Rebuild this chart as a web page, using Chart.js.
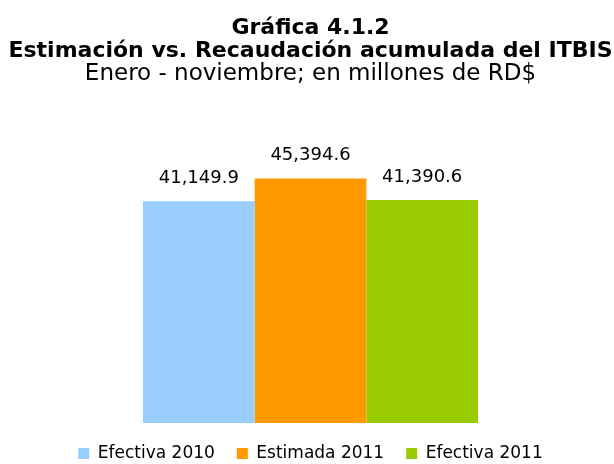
<!DOCTYPE html>
<html>
<head>
<meta charset="utf-8">
<script src="https://cdn.jsdelivr.net/npm/chart.js@4"></script>
<style>
  html, body { margin: 0; padding: 0; background: #fff; }
  #wrap { width: 614px; height: 464px; }
</style>
</head>
<body>
<div id="wrap"><canvas id="chart" width="614" height="464"></canvas></div>
<script>
  // datos
  const seriesNames = ['Efectiva 2010', 'Estimada 2011', 'Efectiva 2011'];
  const seriesValues = [41149.9, 45394.6, 41390.6];
  const seriesColors = ['#99CCFF', '#FF9900', '#99CC00'];
  const categories = [''];

  const FONT = "'DejaVu Sans', sans-serif";

  // etiquetas de valor encima de cada barra
  const valueLabels = {
    id: 'valueLabels',
    afterDatasetsDraw(chart) {
      const ctx = chart.ctx;
      ctx.save();
      ctx.font = '18px ' + FONT;
      ctx.fillStyle = '#000';
      ctx.textAlign = 'center';
      ctx.textBaseline = 'alphabetic';
      chart.data.datasets.forEach((ds, i) => {
        const bar = chart.getDatasetMeta(i).data[0];
        const txt = ds.data[0].toLocaleString('en-US', { minimumFractionDigits: 1, maximumFractionDigits: 1 });
        ctx.fillText(txt, bar.x, bar.y - 18);
      });
      ctx.restore();
    }
  };

  const datasets = seriesNames.map((name, i) => ({
    label: name,
    data: [seriesValues[i]],
    backgroundColor: seriesColors[i],
    borderWidth: 0,
    barPercentage: 1,
    categoryPercentage: 0.552
  }));

  new Chart(document.getElementById('chart'), {
    type: 'bar',
    data: { labels: categories, datasets: datasets },
    options: {
      responsive: false,
      animation: false,
      layout: { padding: { left: 7, right: 0, top: 17, bottom: -8 } },
      scales: {
        x: { display: false },
        y: { display: false, min: 0, max: 60700 }
      },
      plugins: {
        tooltip: { enabled: false },
        title: {
          display: true,
          text: ['Gráfica 4.1.2', 'Estimación vs. Recaudación acumulada del ITBIS'],
          color: '#000',
          font: { family: FONT, size: 22, weight: 'bold', lineHeight: 1.045 },
          padding: { top: 0, bottom: 0 }
        },
        subtitle: {
          display: true,
          text: 'Enero - noviembre; en millones de RD$',
          color: '#000',
          font: { family: FONT, size: 23, weight: 'normal', lineHeight: 1.0 },
          padding: { top: 0, bottom: 10 }
        },
        legend: {
          position: 'bottom',
          labels: {
            color: '#000',
            font: { family: FONT, size: 17 },
            boxWidth: 11,
            boxHeight: 11,
            padding: 22
          }
        }
      }
    },
    plugins: [valueLabels]
  });
</script>
</body>
</html>
